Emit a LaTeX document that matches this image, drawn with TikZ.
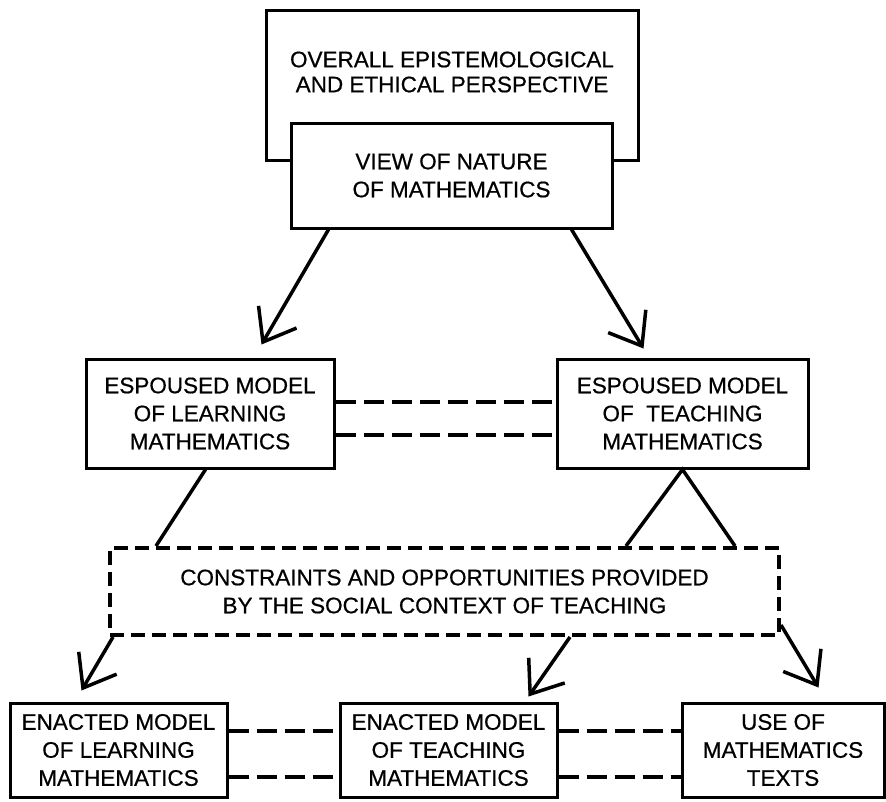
\documentclass[tikz,border=0pt]{standalone}
\usepackage{fontspec}
\setmainfont{Liberation Sans}[FakeBold=0.6]
\usetikzlibrary{arrows.meta}
\begin{document}
\begin{tikzpicture}[x=1pt,y=-1pt,
  every node/.style={font=\fontsize{22.5}{28}\selectfont, align=center, inner sep=0pt},
  box/.style={draw=black, line width=3pt, fill=white, rectangle},
  dbox/.style={draw=black, line width=4pt, dash pattern=on 14pt off 7pt, rectangle},
  link/.style={draw=black, line width=3.5pt},
  arr/.style={draw=black, line width=3.5pt, -{Straight Barb[length=29pt, width=44pt, line width=3.5pt]}},
  dlink/.style={draw=black, line width=4pt, dash pattern=on 20pt off 8pt}]
\useasboundingbox (0,0) rectangle (886,801);
% top
\node[box, minimum width=372pt, minimum height=150pt] (outer) at (452,85) {};
\node[font=\fontsize{22.5}{25}\selectfont] (persp) at (452,72) {OVERALL EPISTEMOLOGICAL\\AND ETHICAL PERSPECTIVE};
\node[box, minimum width=321pt, minimum height=105pt] (nature) at (451.5,175.5) {VIEW OF NATURE\\OF MATHEMATICS};
% espoused
\node[box, minimum width=248pt, minimum height=109pt] (esl) at (210,413.5) {ESPOUSED MODEL\\OF LEARNING\\MATHEMATICS};
\node[box, minimum width=251pt, minimum height=109pt] (est) at (682.5,413.5) {ESPOUSED MODEL\\OF\ \ TEACHING\\MATHEMATICS};
% context
\node[dbox, minimum width=669pt, minimum height=87pt] (ctx) at (444.5,591.5) {CONSTRAINTS AND OPPORTUNITIES PROVIDED\\BY THE SOCIAL CONTEXT OF TEACHING};
% enacted
\node[box, minimum width=217pt, minimum height=94pt] (enl) at (118.5,750) {ENACTED MODEL\\OF LEARNING\\MATHEMATICS};
\node[box, minimum width=217pt, minimum height=94pt] (ent) at (448.5,750) {ENACTED MODEL\\OF TEACHING\\MATHEMATICS};
\node[box, minimum width=202pt, minimum height=94pt] (use) at (783,750) {USE OF\\MATHEMATICS\\TEXTS};
% arrow end points
\coordinate (n1) at ([xshift=39pt]nature.south west);
\coordinate (n2) at ([xshift=-42pt]nature.south east);
\coordinate (t1) at ([xshift=177pt,yshift=13pt]esl.north west);
\coordinate (t2) at ([xshift=88pt,yshift=9pt]est.north west);
\draw[arr] (n1) -- (t1);
\draw[arr] (n2) -- (t2);
% espoused dashed links
\draw[dlink] ([yshift=11.5pt]esl.east) -- ([yshift=11.5pt]est.west);
\draw[dlink] ([yshift=-21.5pt]esl.east) -- ([yshift=-21.5pt]est.west);
% espoused to context
\coordinate (e1) at ([xshift=121pt]esl.south west);
\coordinate (c1) at ([xshift=48pt]ctx.north west);
\coordinate (c2) at ([xshift=518pt]ctx.north west);
\coordinate (c3) at ([xshift=627pt]ctx.north west);
\draw[link] (e1) -- (c1);
\draw[link, line join=miter] (c2) -- (est.south) -- (c3);
% context to enacted
\coordinate (b1) at ([xshift=5pt]ctx.south west);
\coordinate (b2) at ([xshift=462pt]ctx.south west);
\coordinate (b3) at ([yshift=12pt]ctx.south east);
\coordinate (u1) at ([xshift=73pt,yshift=11pt]enl.north west);
\coordinate (u2) at ([xshift=190pt,yshift=5pt]ent.north west);
\coordinate (u3) at ([xshift=138pt,yshift=14pt]use.north west);
\draw[arr] (b1) -- (u1);
\draw[arr] (b2) -- (u2);
\draw[arr] (b3) -- (u3);
% enacted dashed links
\draw[dlink] ([yshift=19pt]enl.east) -- ([yshift=19pt]ent.west);
\draw[dlink] ([yshift=-27pt]enl.east) -- ([yshift=-27pt]ent.west);
\draw[dlink] ([yshift=19pt]ent.east) -- ([yshift=19pt]use.west);
\draw[dlink] ([yshift=-27pt]ent.east) -- ([yshift=-27pt]use.west);
\end{tikzpicture}
\end{document}
